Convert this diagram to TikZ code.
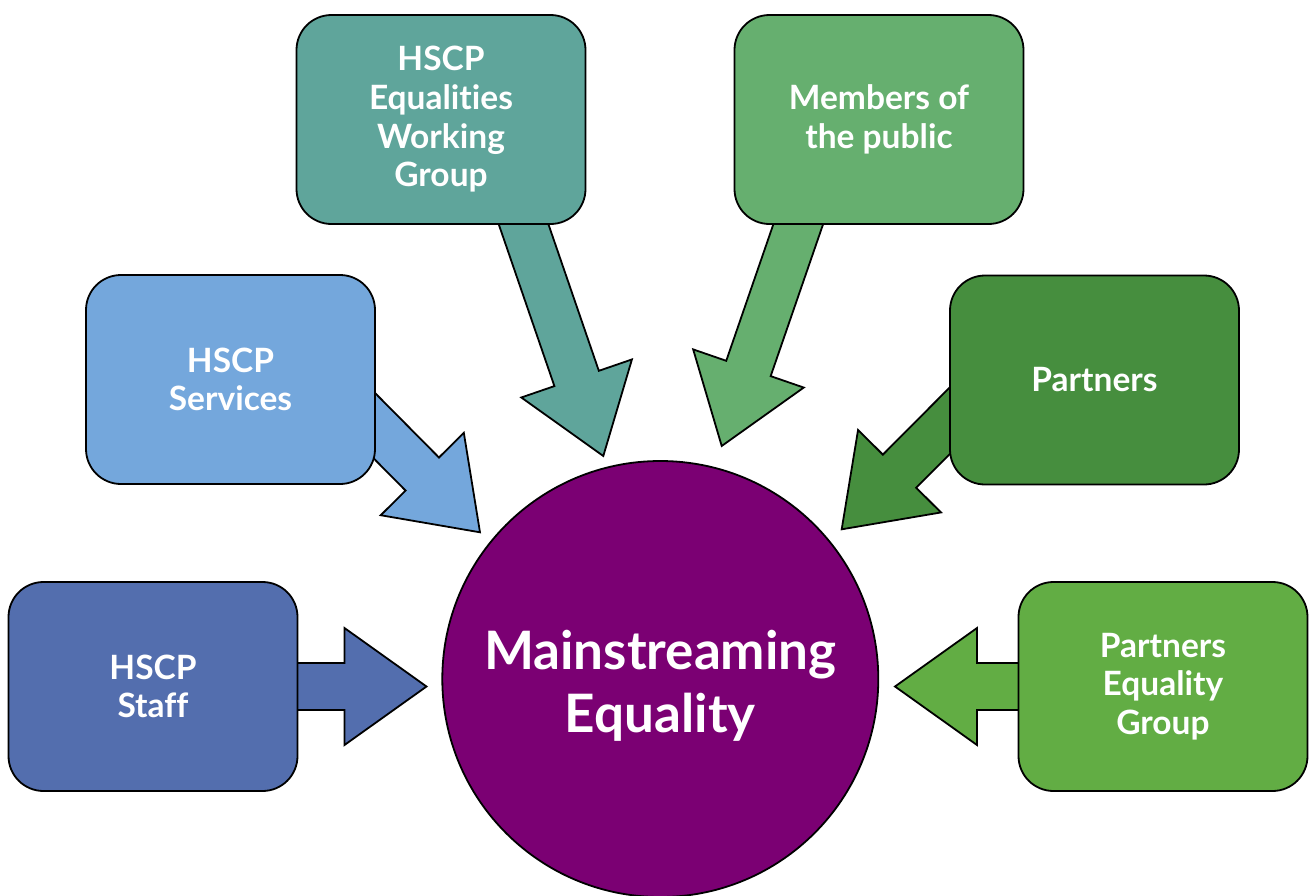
\documentclass[tikz,border=0pt]{standalone}
\usepackage{fontspec}
\setmainfont[Ligatures=NoCommon]{Lato}
\definecolor{cstaff}{HTML}{536EAE}
\definecolor{cserv}{HTML}{74A7DC}
\definecolor{cequal}{HTML}{5FA59B}
\definecolor{cmemb}{HTML}{66AF6F}
\definecolor{cpart}{HTML}{468E3E}
\definecolor{cpeg}{HTML}{62AD44}
\definecolor{cmain}{HTML}{7B0073}
\tikzset{
  box/.style={draw=black, line width=1.8pt, rounded corners=35pt, minimum width=289pt, minimum height=209pt, inner sep=0pt, text=white, align=center, font=\fontsize{33.5}{38.7}\selectfont\bfseries},
  barrow/.style={draw=black, line width=1.8pt, line join=miter},
  hub/.style={circle, draw=black, line width=1.8pt, fill=cmain, minimum size=436pt, inner sep=0pt},
  hubtext/.style={text=white, align=center, font=\fontsize{53}{62.5}\selectfont\bfseries}
}
\newcommand\blockarrow[5]{%
  \pgfmathsetmacro\baang{atan2(#3-#5,#4-#2)}%
  \pgfmathsetmacro\balen{veclen(#4-#2,#5-#3)}%
  \pgfmathsetmacro\babase{\balen-82}%
  \begin{scope}[shift={(#2,#3)}, rotate=\baang]
    \draw[barrow, fill=#1] (0,-23.5) -- (\babase,-23.5) -- (\babase,-58.5) -- (\balen,0) -- (\babase,58.5) -- (\babase,23.5) -- (0,23.5) -- cycle;
  \end{scope}}
\begin{document}
\begin{tikzpicture}[x=1pt, y=-1pt]
\useasboundingbox (0,0) rectangle (1310,895);
% block arrows (drawn under the boxes)
\blockarrow{cstaff}{270}{686.5}{426.5}{686.5}
\blockarrow{cserv}{339}{390}{480}{532.3}
\blockarrow{cequal}{510.8}{187.1}{603.3}{456}
\blockarrow{cmemb}{811}{187.2}{721.7}{446}
\blockarrow{cpart}{982.8}{387.5}{841.7}{529.3}
\blockarrow{cpeg}{1050}{686.5}{895}{686.5}
% boxes
\node[box, fill=cstaff] (staff) at (153,686.5) {HSCP\\Staff};
\node[box, fill=cserv] (serv) at (230.5,379.5) {HSCP\\Services};
\node[box, fill=cequal] (equal) at (441,119.5) {HSCP\\Equalities\\Working\\Group};
\node[box, fill=cmemb] (memb) at (879,119.5) {Members of\\the public};
\node[box, fill=cpart] (part) at (1094.5,380) {Partners};
\node[box, fill=cpeg] (peg) at (1163,686.5) {Partners\\Equality\\Group};
% hub
\node[hub] (main) at (660.3,679) {};
\node[hubtext] (mainlabel) at (660.3,686) {Mainstreaming\\Equality};
\end{tikzpicture}
\end{document}
